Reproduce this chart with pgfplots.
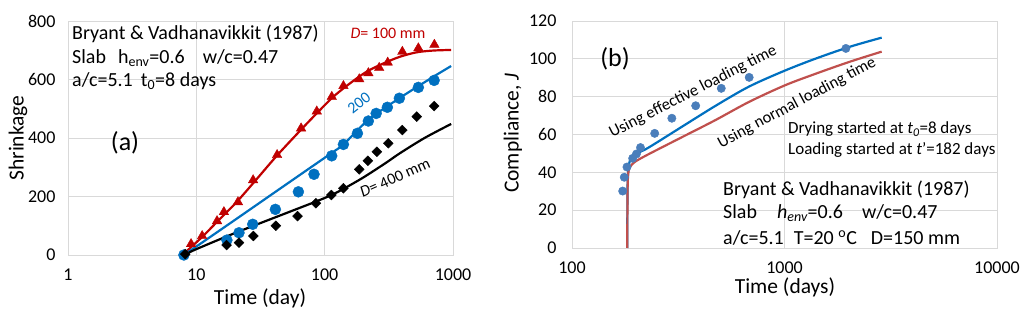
\documentclass[border=0pt]{standalone}
\usepackage{pgfplots}
\pgfplotsset{compat=1.18}
\usepackage{fontspec}
\setmainfont{Carlito}

\definecolor{xlred}{RGB}{192,0,0}
\definecolor{xlblue}{RGB}{0,112,192}
\definecolor{ptblue}{RGB}{74,126,187}
\definecolor{lnred}{RGB}{192,80,77}
\definecolor{gridgray}{RGB}{217,217,217}

\newcommand{\fs}[1]{\fontsize{#1bp}{#1bp}\selectfont}

\begin{document}
\begin{tikzpicture}
\useasboundingbox (0,0) rectangle (1020bp,323bp);

% ---------------- (a) shrinkage ----------------
\begin{axis}[
    scale only axis,
    at={(68bp,68bp)}, anchor=south west,
    width=385bp, height=234bp,
    xmode=log,
    xmin=1, xmax=1000, ymin=0, ymax=800,
    xtick={1,10,100,1000}, xticklabels={1,10,100,1000},
    ytick={0,200,400,600,800},
    axis line style={gridgray, line width=0.9bp},
    grid=major,
    grid style={gridgray, line width=0.9bp},
    major tick length=0pt, minor tick length=0pt,
    xminorgrids=false,
    tick label style={font=\fs{18}},
    /pgf/number format/assume math mode=true,
    xticklabel style={yshift=-10bp},
    yticklabel style={xshift=-9bp},
    clip=false,
]
% fitted curves
\addplot[xlred, line width=2.2bp, smooth] coordinates {
 (8,0) (8.1,6) (9,25) (11.3,65) (15,120) (20.7,182) (30,263) (42.9,342)
 (65,427) (86.6,484) (116.8,541) (157.6,587) (212.8,627) (287,655)
 (387,678) (522,693) (704,699) (967,701)};
\addplot[xlblue, line width=2.2bp, smooth] coordinates {
 (8,0) (10,29) (20,120) (50,241) (110,345) (140,378) (219,462)
 (382,536) (713,611) (967,646)};
\addplot[black, line width=2.2bp, smooth] coordinates {
 (8,0) (10,20) (20,75) (50,143) (85.8,183) (113,205) (140,226)
 (200,265) (300,315) (386,348) (600,400) (967,448)};
% measured data
\addplot[only marks, mark=triangle*, mark size=5.5bp, color=xlred] coordinates {
 (9.1,37.6) (11.1,65) (14.5,116) (16.4,147) (21.1,181) (27.7,256)
 (42.6,342) (65.5,433) (86.8,491) (113.6,541) (140,578) (186,601)
 (219,622) (266,640) (310,658) (403,695) (537,707) (716,719)};
\addplot[only marks, mark=*, mark size=5.5bp, color=xlblue] coordinates {
 (8,0) (17.3,51) (21.5,76) (27.5,105) (41.3,156) (62.4,216) (82.6,276)
 (113.5,339) (140,378) (180,416) (219,458) (252,484) (308,505)
 (382,536) (537,573) (713,597)};
\addplot[only marks, mark=square*, mark size=3.5bp, mark options={rotate=45}, color=black] coordinates {
 (8.2,3) (17.2,34) (21.5,42) (27.8,65) (41.6,100) (61.5,133) (85.4,177)
 (112.8,205) (140,228) (186,293) (217,322) (255,353) (313,382)
 (403,427) (522,473) (713,509)};
\end{axis}

\node[font=\fs{21.5}, rotate=90] at (18bp,185bp) {Shrinkage};
\node[font=\fs{21.5}] at (260bp,25bp) {Time (day)};
\node[font=\fs{20}, anchor=west, inner sep=0] at (72bp,289bp) {Bryant \& Vadhanavikkit (1987)};
\node[font=\fs{20}, anchor=west, inner sep=0] at (72bp,265bp)
  {Slab\hspace{12bp}h\textsubscript{env}=0.6\hspace{18bp}w/c=0.47};
\node[font=\fs{20}, anchor=west, inner sep=0] at (72bp,242bp)
  {a/c=5.1\hspace{8bp}t\textsubscript{0}=8 days};
\node[font=\fs{26}] at (125bp,180bp) {(a)};
\node[font=\fs{16}, text=xlred] at (388bp,290bp) {\textit{D}= 100 mm};
\node[font=\fs{16}, text=xlblue, rotate=38] at (359bp,220bp) {200};
\node[font=\fs{16}, rotate=24] at (395bp,145bp) {\textit{D}= 400 mm};

% ---------------- (b) compliance ----------------
\begin{axis}[
    scale only axis,
    at={(572bp,75bp)}, anchor=south west,
    width=425bp, height=227bp,
    xmode=log,
    xmin=100, xmax=10000, ymin=0, ymax=120,
    xtick={100,1000,10000}, xticklabels={100,1000,10000},
    ytick={0,20,40,60,80,100,120},
    axis line style={gridgray, line width=0.9bp},
    grid=major,
    grid style={gridgray, line width=0.9bp},
    major tick length=0pt, minor tick length=0pt,
    xminorgrids=false,
    tick label style={font=\fs{18}},
    /pgf/number format/assume math mode=true,
    xticklabel style={yshift=-10bp},
    yticklabel style={xshift=-12bp},
    clip=false,
]
\addplot[xlblue, line width=2.2bp, smooth, tension=0.5] coordinates {
 (182,0) (182.3,25) (183,37) (185,42.5) (187.5,46.5) (198,49.5)
 (228.5,53) (328,64) (471,75) (680,85.3) (1005,93.8)
 (1416,100.3) (2033,106.4) (2866,111.2)};
\addplot[lnred, line width=2.2bp, smooth, tension=0.5] coordinates {
 (182,0) (182.2,15) (182.6,30) (183.3,37) (184.5,40.5) (188,43)
 (198,45.6) (228.5,49.5) (328,58.5) (471,67.5) (680,77.2) (1005,86)
 (1416,92.3) (2033,98.5) (2866,103.8)};
\addplot[only marks, mark=*, mark size=4.2bp, color=ptblue] coordinates {
 (173.2,30.1) (176.2,37.4) (181.4,42.8) (193,47.4) (201,49.7) (210,53.1)
 (245,60.6) (295,68.6) (382,75.2) (504,84.4) (682,90.2) (1945,105.5)};
\end{axis}

\node[font=\fs{21.5}, rotate=90] at (513bp,190bp) {Compliance, \textit{J}};
\node[font=\fs{21.5}] at (785bp,36bp) {Time (days)};
\node[font=\fs{26}] at (615bp,264bp) {(b)};
\node[font=\fs{16.5}, rotate=27] at (693bp,231bp) {Using effective loading time};
\node[font=\fs{16.5}, rotate=28] at (797bp,220bp) {Using normal loading time};
\node[font=\fs{17}, anchor=west, inner sep=0] at (788bp,194bp)
  {Drying started at \textit{t\textsubscript{0}}=8 days};
\node[font=\fs{17}, anchor=west, inner sep=0] at (788bp,173bp)
  {Loading started at \textit{t}'=182 days};
\node[font=\fs{20}, anchor=west, inner sep=0] at (723bp,133bp) {Bryant \& Vadhanavikkit (1987)};
\node[font=\fs{20}, anchor=west, inner sep=0] at (723bp,110bp)
  {Slab\hspace{20bp}\textit{h\textsubscript{env}}=0.6\hspace{19bp}w/c=0.47};
\node[font=\fs{20}, anchor=west, inner sep=0] at (723bp,85bp)
  {a/c=5.1\hspace{10bp}T=20 \textsuperscript{o}C\hspace{14bp}D=150 mm};
\end{tikzpicture}
\end{document}
